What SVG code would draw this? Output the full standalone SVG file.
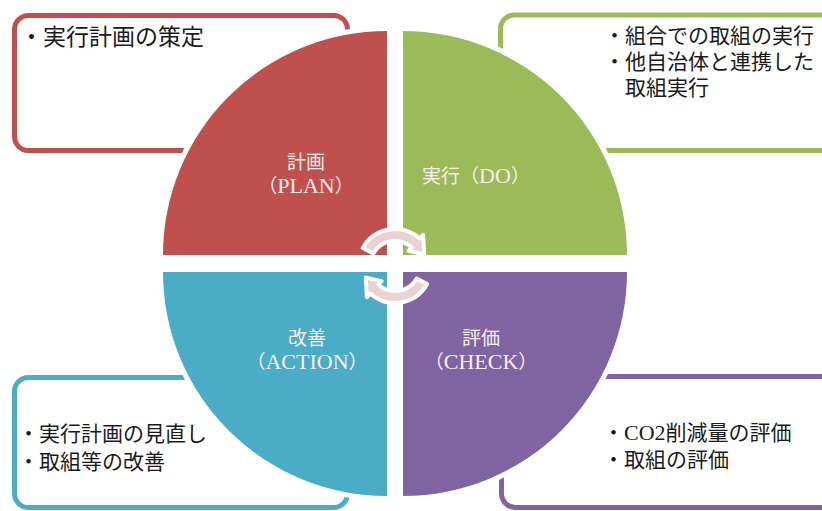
<svg xmlns="http://www.w3.org/2000/svg" width="822" height="511" viewBox="0 0 822 511">
<style>
.box{fill:#ffffff;stroke-width:5}
.quad{stroke:#ffffff;stroke-width:10;paint-order:stroke;stroke-linejoin:round}
.lbl{font-family:"Liberation Serif","Noto Sans CJK JP",serif;font-size:19px;fill:#f8eeee;text-anchor:middle}
.lat{font-size:22px}
.txt{font-family:"Liberation Serif","Noto Sans CJK JP",serif;font-size:21px;fill:#1a1a1a}
.arrow{fill:#ebd2d2;stroke:#ffffff;stroke-width:4;stroke-linejoin:round}
</style>
<rect width="822" height="511" fill="#ffffff"/>
<g id="plan">
<rect class="box" x="14.5" y="15.5" width="333" height="135" rx="14" stroke="#c0504d"/>
<path class="quad" d="M387,255 L163,255 A224,224 0 0 1 387,31 Z" fill="#c0504d"/>
<text class="lbl" x="306" y="169">計画</text>
<text class="lbl" x="306" y="193">（<tspan class="lat">PLAN</tspan>）</text>
<text class="txt" x="20" y="45" style="font-size:23px">・実行計画の策定</text>
</g>
<g id="do">
<rect class="box" x="500.5" y="15" width="334" height="135.5" rx="14" stroke="#9bbb59"/>
<path class="quad" d="M403,255 L403,31 A224,224 0 0 1 627,255 Z" fill="#9bbb59"/>
<text class="lbl" x="476" y="183">実行（<tspan class="lat">DO</tspan>）</text>
<text class="txt" x="604" y="43">・組合での取組の実行</text>
<text class="txt" x="604" y="69">・他自治体と連携した</text>
<text class="txt" x="625" y="95">取組実行</text>
</g>
<g id="check">
<rect class="box" x="501.5" y="376.5" width="334" height="131" rx="14" stroke="#8064a2"/>
<path class="quad" d="M403,272 L627,272 A224,224 0 0 1 403,496 Z" fill="#8064a2"/>
<text class="lbl" x="481" y="345">評価</text>
<text class="lbl" x="481" y="369">（<tspan class="lat">CHECK</tspan>）</text>
<text class="txt" x="603" y="440">・<tspan style="font-size:22px">CO2</tspan>削減量の評価</text>
<text class="txt" x="603" y="467">・取組の評価</text>
</g>
<g id="action">
<rect class="box" x="14.5" y="377.5" width="333" height="130" rx="14" stroke="#4bacc6"/>
<path class="quad" d="M387,272 L387,496 A224,224 0 0 1 163,272 Z" fill="#4bacc6"/>
<text class="lbl" x="307" y="345">改善</text>
<text class="lbl" x="307" y="369">（<tspan class="lat">ACTION</tspan>）</text>
<text class="txt" x="18" y="441">・実行計画の見直し</text>
<text class="txt" x="18" y="469">・取組等の改善</text>
</g>
<g id="connectors">
<path class="arrow" d="M362.8,248 A37,37 0 0 1 419.76,238.5 L423.1,234.8 L424.2,254.4 L408.4,250.8 L411.7,247.4 A25,25 0 0 0 373.3,253.5 Z"/>
<path class="arrow" d="M427.2,284 A37,37 0 0 1 370.24,293.5 L366.9,297.2 L365.8,277.6 L381.6,281.2 L378.3,284.6 A25,25 0 0 0 416.7,278.5 Z"/>
</g>
</svg>
